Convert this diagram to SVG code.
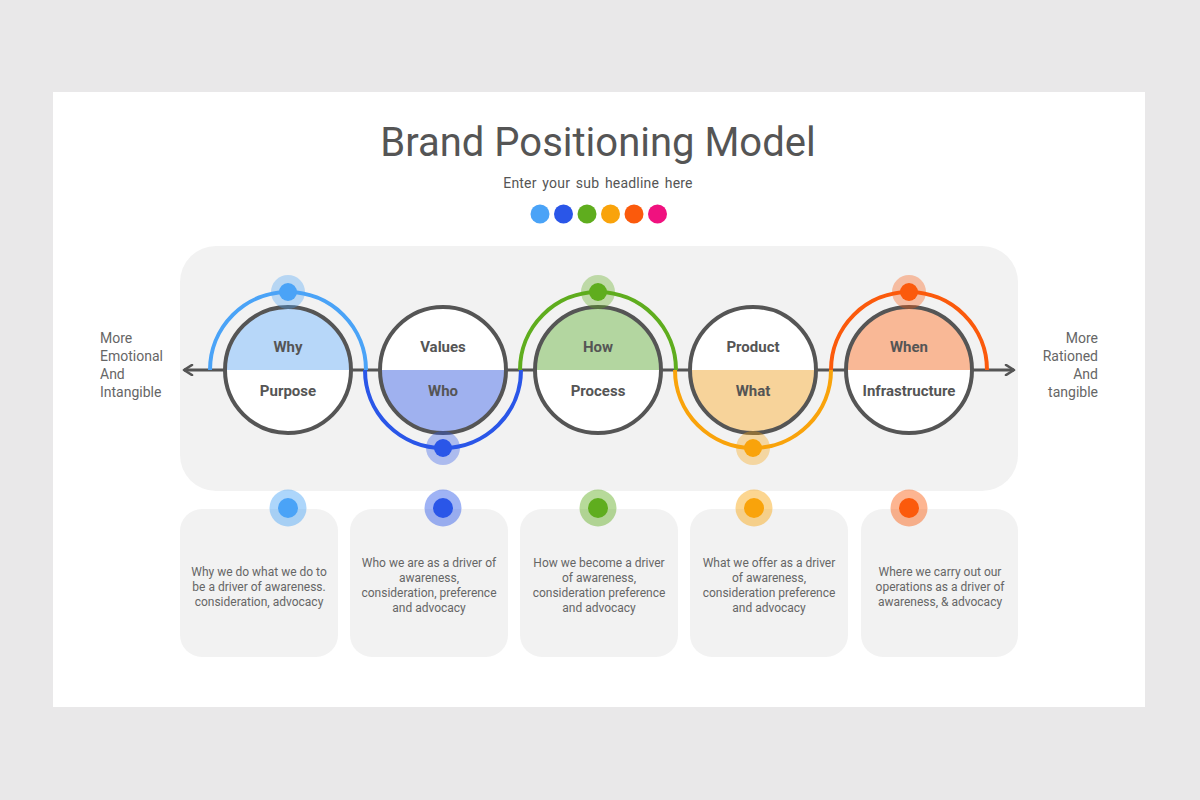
<svg xmlns="http://www.w3.org/2000/svg" width="1200" height="800" viewBox="0 0 1200 800">
<defs>
<style>
.t{font-family:Roboto,"Liberation Sans",sans-serif;fill:#555}
.lbl{font-family:Roboto,"Liberation Sans",sans-serif;font-weight:bold;font-size:15px;fill:#555;text-anchor:middle}
.desc{font-family:Roboto,"Liberation Sans",sans-serif;font-size:12px;fill:#666;text-anchor:middle}
.side{font-family:Roboto,"Liberation Sans",sans-serif;font-size:14px;fill:#666}
.ring{fill:none;stroke:#555;stroke-width:4}
.arc{fill:none;stroke-width:4}
.card{fill:#f2f2f2}
</style>
<marker id="ah" viewBox="0 0 12 12" refX="10" refY="6" markerWidth="12" markerHeight="12" markerUnits="userSpaceOnUse" orient="auto-start-reverse">
<path d="M2 1 L10 6 L2 11" fill="none" stroke="#555" stroke-width="2.6" stroke-linecap="round" stroke-linejoin="round"/>
</marker>
</defs>
<rect width="1200" height="800" fill="#e9e8e9"/>
<rect x="53" y="92" width="1092" height="615" fill="#fff"/>
<text class="t" x="598" y="156" font-size="40" text-anchor="middle">Brand Positioning Model</text>
<text class="t" x="598" y="188" font-size="14" word-spacing="2" letter-spacing="0.2" text-anchor="middle">Enter your sub headline here</text>
<g id="palette">
<circle cx="540" cy="214" r="9.5" fill="#4aa3f7"/>
<circle cx="563.5" cy="214" r="9.5" fill="#2a56e8"/>
<circle cx="587" cy="214" r="9.5" fill="#5fad1e"/>
<circle cx="610.5" cy="214" r="9.5" fill="#f9a30b"/>
<circle cx="634" cy="214" r="9.5" fill="#fb5a0c"/>
<circle cx="657.5" cy="214" r="9.5" fill="#f0117f"/>
</g>
<rect x="180" y="246" width="838" height="245" rx="36" fill="#f2f2f2"/>
<g id="connectors">
<line x1="184" y1="370" x2="1014" y2="370" stroke="#555" stroke-width="3" marker-start="url(#ah)" marker-end="url(#ah)"/>
</g>
<g id="side-left"><text class="side" x="100"><tspan x="100" y="343">More</tspan><tspan x="100" y="361">Emotional</tspan><tspan x="100" y="379">And</tspan><tspan x="100" y="397">Intangible</tspan></text></g>
<g id="side-right"><text class="side" text-anchor="end"><tspan x="1098" y="343">More</tspan><tspan x="1098" y="361">Rationed</tspan><tspan x="1098" y="379">And</tspan><tspan x="1098" y="397">tangible</tspan></text></g>

<g id="why">
<circle cx="288" cy="370" r="63" fill="#fff"/>
<path d="M225 370 A63 63 0 0 1 351 370 Z" fill="#b7d7f9"/>
<circle class="ring" cx="288" cy="370" r="63"/>
<path class="arc" d="M210 370 A78 78 0 0 1 366 370" stroke="#4aa3f7"/>
<circle cx="288" cy="292" r="17" fill="#4aa3f7" opacity="0.35"/>
<circle cx="288" cy="292" r="9" fill="#4aa3f7"/>
<text class="lbl" x="288" y="352">Why</text>
<text class="lbl" x="288" y="396">Purpose</text>
</g>
<g id="who">
<circle cx="443" cy="370" r="63" fill="#fff"/>
<path d="M380 370 A63 63 0 0 0 506 370 Z" fill="#9fb1ef"/>
<circle class="ring" cx="443" cy="370" r="63"/>
<path class="arc" d="M365 370 A78 78 0 0 0 521 370" stroke="#2a56e8"/>
<circle cx="443" cy="448" r="17" fill="#2a56e8" opacity="0.35"/>
<circle cx="443" cy="448" r="9" fill="#2a56e8"/>
<text class="lbl" x="443" y="352">Values</text>
<text class="lbl" x="443" y="396">Who</text>
</g>
<g id="how">
<circle cx="598" cy="370" r="63" fill="#fff"/>
<path d="M535 370 A63 63 0 0 1 661 370 Z" fill="#b3d6a0"/>
<circle class="ring" cx="598" cy="370" r="63"/>
<path class="arc" d="M520 370 A78 78 0 0 1 676 370" stroke="#5fad1e"/>
<circle cx="598" cy="292" r="17" fill="#5fad1e" opacity="0.35"/>
<circle cx="598" cy="292" r="9" fill="#5fad1e"/>
<text class="lbl" x="598" y="352">How</text>
<text class="lbl" x="598" y="396">Process</text>
</g>
<g id="what">
<circle cx="753" cy="370" r="63" fill="#fff"/>
<path d="M690 370 A63 63 0 0 0 816 370 Z" fill="#f7d39a"/>
<circle class="ring" cx="753" cy="370" r="63"/>
<path class="arc" d="M675 370 A78 78 0 0 0 831 370" stroke="#f9a30b"/>
<circle cx="753" cy="448" r="17" fill="#f9a30b" opacity="0.35"/>
<circle cx="753" cy="448" r="9" fill="#f9a30b"/>
<text class="lbl" x="753" y="352">Product</text>
<text class="lbl" x="753" y="396">What</text>
</g>
<g id="when">
<circle cx="909" cy="370" r="63" fill="#fff"/>
<path d="M846 370 A63 63 0 0 1 972 370 Z" fill="#f9b896"/>
<circle class="ring" cx="909" cy="370" r="63"/>
<path class="arc" d="M831 370 A78 78 0 0 1 987 370" stroke="#fb5a0c"/>
<circle cx="909" cy="292" r="17" fill="#fb5a0c" opacity="0.35"/>
<circle cx="909" cy="292" r="9" fill="#fb5a0c"/>
<text class="lbl" x="909" y="352">When</text>
<text class="lbl" x="909" y="396">Infrastructure</text>
</g>

<g id="card1">
<rect class="card" x="180" y="509" width="158" height="148" rx="22"/>
<circle cx="288" cy="508" r="18.5" fill="#4aa3f7" opacity="0.45"/>
<circle cx="288" cy="508" r="10" fill="#4aa3f7"/>
<text class="desc"><tspan x="259" y="576">Why we do what we do to</tspan><tspan x="259" y="591">be a driver of awareness.</tspan><tspan x="259" y="606">consideration, advocacy</tspan></text>
</g>
<g id="card2">
<rect class="card" x="350" y="509" width="158" height="148" rx="22"/>
<circle cx="443" cy="508" r="18.5" fill="#2a56e8" opacity="0.45"/>
<circle cx="443" cy="508" r="10" fill="#2a56e8"/>
<text class="desc"><tspan x="429" y="567">Who we are as a driver of</tspan><tspan x="429" y="582">awareness,</tspan><tspan x="429" y="597">consideration, preference</tspan><tspan x="429" y="612">and advocacy</tspan></text>
</g>
<g id="card3">
<rect class="card" x="520" y="509" width="158" height="148" rx="22"/>
<circle cx="598" cy="508" r="18.5" fill="#5fad1e" opacity="0.45"/>
<circle cx="598" cy="508" r="10" fill="#5fad1e"/>
<text class="desc"><tspan x="599" y="567">How we become a driver</tspan><tspan x="599" y="582">of awareness,</tspan><tspan x="599" y="597">consideration preference</tspan><tspan x="599" y="612">and advocacy</tspan></text>
</g>
<g id="card4">
<rect class="card" x="690" y="509" width="158" height="148" rx="22"/>
<circle cx="754" cy="508" r="18.5" fill="#f9a30b" opacity="0.45"/>
<circle cx="754" cy="508" r="10" fill="#f9a30b"/>
<text class="desc"><tspan x="769" y="567">What we offer as a driver</tspan><tspan x="769" y="582">of awareness,</tspan><tspan x="769" y="597">consideration preference</tspan><tspan x="769" y="612">and advocacy</tspan></text>
</g>
<g id="card5">
<rect class="card" x="861" y="509" width="157" height="148" rx="22"/>
<circle cx="909" cy="508" r="18.5" fill="#fb5a0c" opacity="0.45"/>
<circle cx="909" cy="508" r="10" fill="#fb5a0c"/>
<text class="desc"><tspan x="940" y="576">Where we carry out our</tspan><tspan x="940" y="591">operations as a driver of</tspan><tspan x="940" y="606">awareness, &amp; advocacy</tspan></text>
</g>
</svg>
